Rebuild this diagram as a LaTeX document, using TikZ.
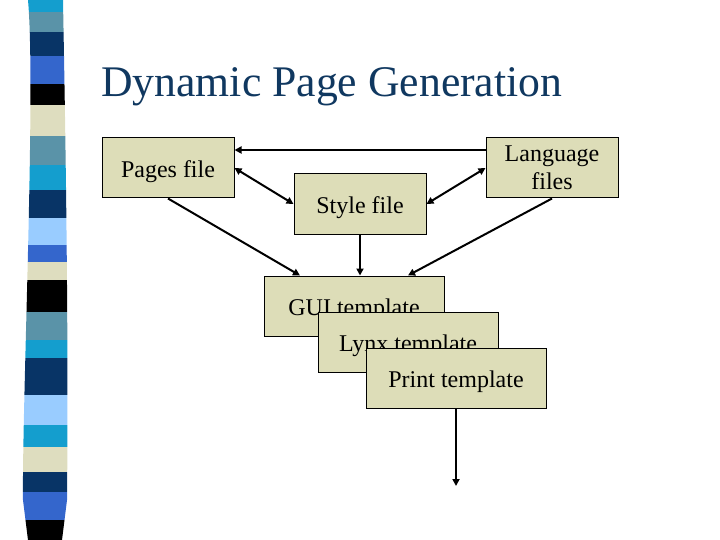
\documentclass[tikz,border=0pt]{standalone}
\usepackage{fontspec}
\setmainfont{Liberation Serif}
\usepackage{xcolor}
\usetikzlibrary{arrows.meta,positioning}

\definecolor{titleblue}{RGB}{16,56,96}
\definecolor{boxfill}{RGB}{221,221,184}
\definecolor{stcyan}{RGB}{20,158,206}
\definecolor{ststeel}{RGB}{90,147,168}
\definecolor{stnavy}{RGB}{8,52,102}
\definecolor{stroyal}{RGB}{52,102,204}
\definecolor{stlight}{RGB}{153,204,255}
\definecolor{stbeige}{RGB}{222,221,191}

\begin{document}
\begin{tikzpicture}[
    x=1pt, y=-1pt,
    block/.style={rectangle, draw=black, line width=1pt, fill=boxfill, minimum width=132pt, minimum height=60pt, inner sep=0pt, align=center, font=\fontsize{24}{28}\selectfont, execute at begin node={\rule{0pt}{24pt}}},
    tmpl/.style={block, minimum width=180pt},
    arr/.style={-{Triangle[length=7pt,width=7pt]}, line width=2pt},
    dbl/.style={{Triangle[length=7pt,width=7pt]}-{Triangle[length=7pt,width=7pt]}, line width=2pt}
]
\useasboundingbox (0,0) rectangle (720,540);

\begin{scope}
\clip (28,0) .. controls (36,90) and (22,400) .. (23,500) -- (28,540) -- (62,540) -- (67,500) .. controls (69,300) and (64,60) .. (63,0) -- cycle;
\foreach \ya/\yb/\col in {0/12/stcyan, 12/32/ststeel, 32/56/stnavy, 56/84/stroyal, 84/105/black, 105/136/stbeige, 136/165/ststeel, 165/190/stcyan, 190/218/stnavy, 218/245/stlight, 245/262/stroyal, 262/280/stbeige, 280/312/black, 312/340/ststeel, 340/358/stcyan, 358/395/stnavy, 395/425/stlight, 425/447/stcyan, 447/472/stbeige, 472/492/stnavy, 492/520/stroyal, 520/540/black}
  \fill[\col] (10,\ya) rectangle (80,\yb);
\end{scope}

\node[anchor=base west, inner sep=0pt, text=titleblue, font=\fontsize{43.7}{50}\selectfont] (title) at (101,97) {Dynamic Page Generation};

\node[block] (pages) at (168,168) {Pages file};
\node[block] (style) at (360,204) {Style file};
\node[block] (lang) at (552,168) {Language\\files};

\node[tmpl] (gui) at (354,306) {GUI template};
\node[tmpl] (lynx) at (408,342) {Lynx template};
\node[tmpl] (print) at (456,378) {Print template};
\coordinate (out) at (456,486);

\draw[arr] ([yshift=18pt]lang.west) -- ([yshift=18pt]pages.east);
\draw[dbl] (pages.east) -- (style.west);
\draw[dbl] (lang.west) -- (style.east);
\draw[arr] (pages.south) -- ([xshift=-54pt]gui.north);
\draw[arr] (style.south) -- (style.south |- gui.north);
\draw[arr] (lang.south) -- ([xshift=54pt]gui.north);
\draw[arr] (print.south) -- (out);
\end{tikzpicture}
\end{document}
